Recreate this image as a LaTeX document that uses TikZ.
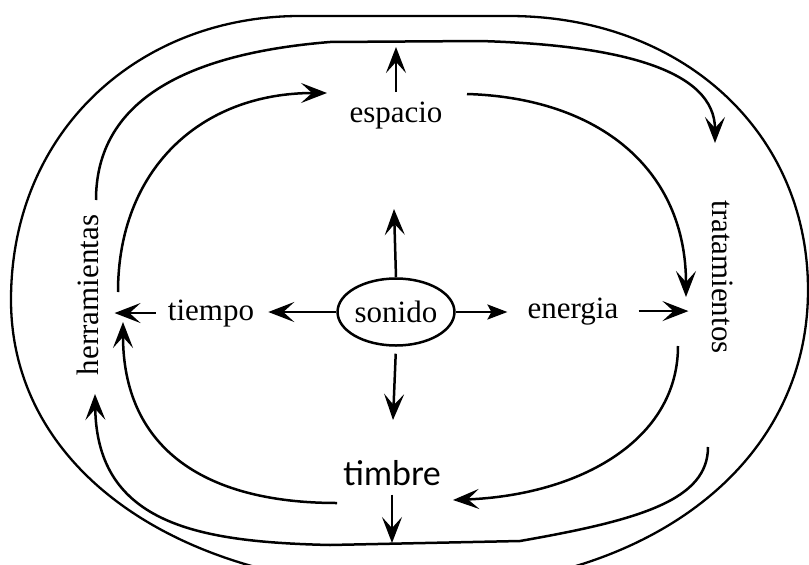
\documentclass[tikz,border=0pt]{standalone}
\usepackage{fontspec}
\setmainfont{Liberation Serif}
\newfontfamily\gillfont{Lato}
\usetikzlibrary{arrows.meta,shapes.geometric}
\begin{document}
\begin{tikzpicture}[x=1pt,y=-1pt,
  line width=2.5pt,
  lbl/.style={font=\fontsize{31}{36}\selectfont, inner sep=0pt, anchor=base},
  arr/.style={-{Stealth[length=26pt,width=20pt,inset=11pt]}},
  smallarr/.style={-{Stealth[length=20pt,width=15pt,inset=4pt]}}]
\useasboundingbox (0,0) rectangle (809,565);
\clip (0,0) rectangle (809,565);
% outer closed loop
\draw[line width=2.3pt] (300,16) -- (509,16)
  .. controls (680,16) and (808,130) .. (808,290)
  .. controls (808,470) and (640,588) .. (420,588)
  .. controls (180,588) and (11,470) .. (11,300)
  .. controls (11,130) and (140,16) .. (300,16) -- cycle;
% labels
\node[lbl] (espacio) at (396,122) {espacio};
\node[lbl] (tiempo) at (211,320) {tiempo};
\node[lbl] (energia) at (573,318) {energia};
\node[lbl, font=\gillfont\fontsize{34}{38}\selectfont] (timbre) at (392,485) {timbre};
\node[lbl, rotate=90] (herr) at (98,295) {herramientas};
\node[lbl, rotate=-90] (trat) at (712,277) {tratamientos};
\node[ellipse, draw, minimum width=114pt, minimum height=67pt, inner sep=0pt,
  font=\fontsize{31}{36}\selectfont] (sonido) at (396,312) {sonido};
% free ends
\coordinate (upT) at (394,209);
\coordinate (downT) at (393,420);
\coordinate (espT) at (396,47);
\coordinate (timT) at (392,543);
\coordinate (a1s) at (118,292);
\coordinate (a1e) at (327,93);
\coordinate (a2s) at (467,94);
\coordinate (a2e) at (686,297);
\coordinate (a3s) at (678,346);
\coordinate (a3e) at (453,500);
\coordinate (a4s) at (337,503);
\coordinate (a4e) at (123,322);
\coordinate (ts) at (96,200);
\coordinate (te) at (715,143);
\coordinate (bs) at (708,447);
\coordinate (be) at (95,394);
% straight arrows
\draw[arr] (sonido.north) -- (upT);
\draw[arr, shorten <=7pt] (sonido.south) -- (downT);
\draw[arr, shorten >=13pt] (sonido.west) -- (sonido.west -| tiempo.east);
\draw[smallarr, shorten >=19pt] (sonido.east) -- (sonido.east -| energia.west);
\draw[arr, shorten <=11pt, shorten >=15pt] (tiempo.west) -- (tiempo.west -| herr.south);
\draw[arr, shorten <=19pt, shorten >=22pt] (energia.east) -- (energia.east -| trat.south);
\draw[arr, shorten <=8pt] (espacio.north) -- (espT);
\draw[arr, shorten <=8pt] (timbre.south) -- (timT);
% inner arcs
\draw[arr] (a1s) .. controls (118,170) and (200,93) .. (a1e);
\draw[arr] (a2s) .. controls (600,98) and (686,170) .. (a2e);
\draw[arr] (a3s) .. controls (678,440) and (580,495) .. (a3e);
\draw[arr] (a4s) .. controls (200,503) and (123,445) .. (a4e);
% middle loops
\draw[arr] (ts) .. controls (96,110) and (170,55) .. (330,42) -- (480,41)
  .. controls (620,45) and (715,70) .. (te);
\draw[arr] (bs) .. controls (708,500) and (640,520) .. (520,541) -- (330,545)
  .. controls (200,542) and (97,525) .. (be);
\end{tikzpicture}
\end{document}
